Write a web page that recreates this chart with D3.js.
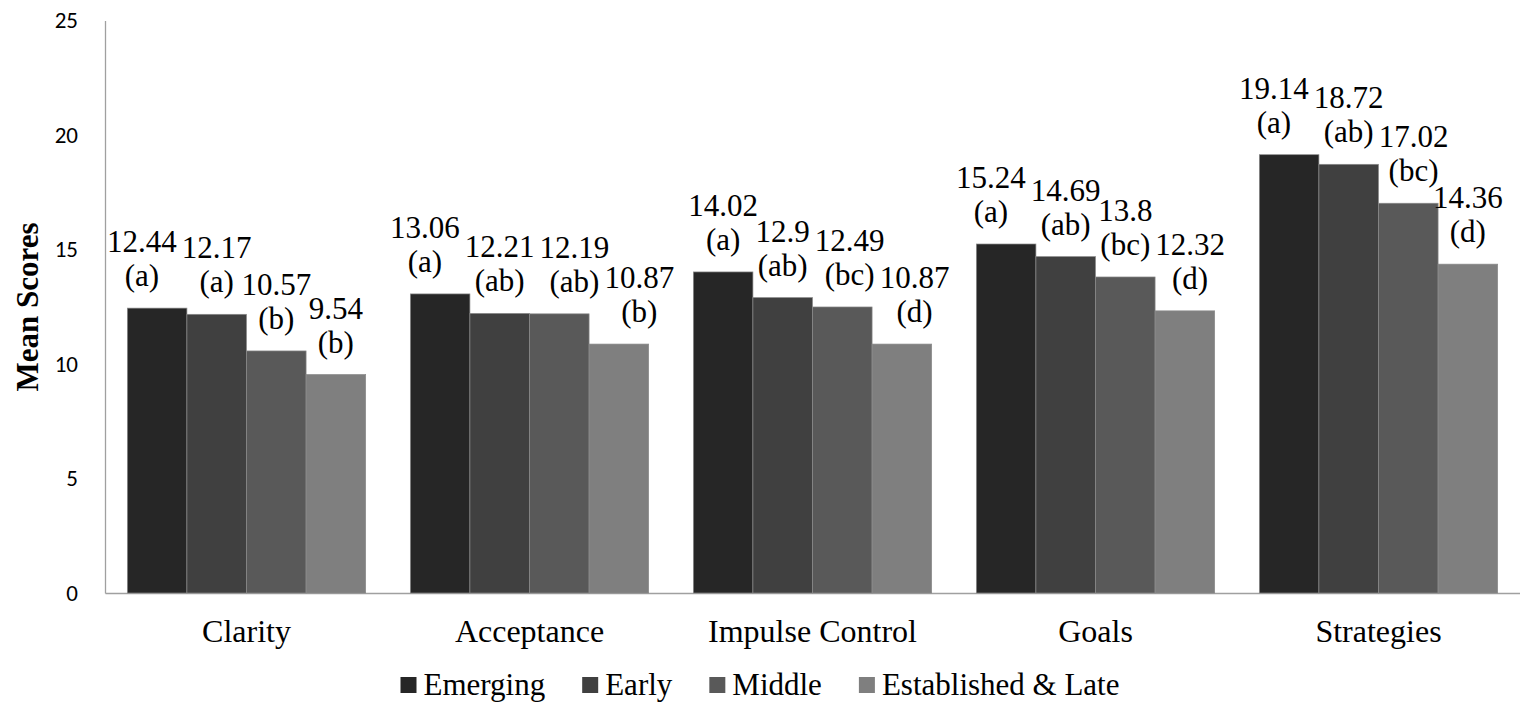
<!DOCTYPE html>
<html>
<head>
<meta charset="utf-8">
<script src="https://cdn.jsdelivr.net/npm/d3@7/dist/d3.min.js"></script>
<style>
  html, body { margin: 0; padding: 0; background: #fff; }
  svg { display: block; }
  .serif { font-family: "Liberation Serif", "Times New Roman", "DejaVu Serif", serif; }
  .sans { font-family: "Carlito", "Lato", "Open Sans", sans-serif; }
</style>
</head>
<body>
<svg id="chart" width="1520" height="714"></svg>
<script>
// Mean scores by career stage for each emotion-regulation subscale
const categories = ["Clarity", "Acceptance", "Impulse Control", "Goals", "Strategies"];
const seriesNames = ["Emerging", "Early", "Middle", "Established & Late"];

const emerging        = [12.44, 13.06, 14.02, 15.24, 19.14];
const early           = [12.17, 12.21, 12.9, 14.69, 18.72];
const middle          = [10.57, 12.19, 12.49, 13.8, 17.02];
const establishedLate = [9.54, 10.87, 10.87, 12.32, 14.36];

// Post-hoc group letters shown under each mean
const emergingGroups        = ["a", "a", "a", "a", "a"];
const earlyGroups           = ["a", "ab", "ab", "ab", "ab"];
const middleGroups          = ["b", "ab", "bc", "bc", "bc"];
const establishedLateGroups = ["b", "b", "d", "d", "d"];

const yTicks = [0, 5, 10, 15, 20, 25];

const seriesValues = [emerging, early, middle, establishedLate];
const seriesGroups = [emergingGroups, earlyGroups, middleGroups, establishedLateGroups];
const colors = ["#262626", "#404040", "#595959", "#7f7f7f"];

const svg = d3.select("#chart");
const width = 1520;

const plotLeft = 105, plotRight = 1520, plotTop = 20.5, plotBottom = 593;

const x0 = d3.scaleBand().domain(categories).range([plotLeft, plotRight]).padding(0);
const x1 = d3.scaleBand().domain(seriesNames).range([0, x0.bandwidth()])
  .paddingInner(0).paddingOuter(0.375);
const y = d3.scaleLinear().domain([0, 25]).range([plotBottom, plotTop]);

const rows = [];
categories.forEach((c, ci) => {
  seriesNames.forEach((s, si) => {
    rows.push({ cat: c, ci, series: s, si,
      value: seriesValues[si][ci], group: seriesGroups[si][ci] });
  });
});

// Axes
const yAxis = d3.axisLeft(y).tickValues(yTicks).tickSize(0).tickPadding(27);
const gy = svg.append("g").attr("transform", `translate(${plotLeft},0)`).call(yAxis);
gy.attr("font-family", null).attr("font-size", null);
gy.select(".domain").attr("stroke", "#a0a0a0").attr("stroke-width", 1.3);
gy.selectAll("text").attr("class", "sans")
  .attr("font-size", 23).attr("fill", "#000");

const xAxis = d3.axisBottom(x0).tickSize(0).tickPadding(0);
const gx = svg.append("g").attr("transform", `translate(0,${plotBottom})`).call(xAxis);
gx.attr("font-family", null).attr("font-size", null);
gx.select(".domain").attr("stroke", "#a0a0a0").attr("stroke-width", 1.3);
gx.selectAll("text").attr("class", "serif")
  .attr("font-size", 32).attr("fill", "#000")
  .attr("dy", null).attr("y", 49);

// Y axis title
svg.append("text").attr("class", "serif")
  .attr("transform", `translate(38,307) rotate(-90)`)
  .attr("text-anchor", "middle")
  .attr("font-weight", "bold").attr("font-size", 31)
  .text("Mean Scores");

// Bars
svg.append("g").selectAll("rect").data(rows).join("rect")
  .attr("x", d => x0(d.cat) + x1(d.series))
  .attr("y", d => y(d.value))
  .attr("width", x1.bandwidth())
  .attr("height", d => y(0) - y(d.value))
  .attr("fill", d => colors[d.si])
  .attr("stroke", "#8a8a8a").attr("stroke-width", 0.7);

// Data labels: value above its group letter
const fs = 31, lineGap = 34, letterLift = 22, pad = 5;
const labelLayer = svg.append("g");
const labels = rows.map(d => {
  const cx = x0(d.cat) + x1(d.series) + x1.bandwidth() / 2;
  const base = y(d.value) - letterLift;
  const g = labelLayer.append("g").attr("transform", `translate(${cx},${base})`);
  const tv = g.append("text").attr("class", "serif").attr("text-anchor", "middle")
    .attr("font-size", fs).attr("y", -lineGap)
    .text(String(d.value));
  const tl = g.append("text").attr("class", "serif").attr("text-anchor", "middle")
    .attr("font-size", fs).attr("y", 0)
    .text(`(${d.group})`);
  return { d, g, cx, base, shift: 0,
    wv: tv.node().getComputedTextLength(), wl: tl.node().getComputedTextLength() };
});

function boxes(L) {
  const c = L.cx + L.shift;
  return [
    { l: c - L.wv / 2, r: c + L.wv / 2, t: L.base - lineGap - 0.7 * fs, b: L.base - lineGap },
    { l: c - L.wl / 2, r: c + L.wl / 2, t: L.base - 0.72 * fs, b: L.base + 0.2 * fs }
  ];
}

// Nudge neighbouring labels sideways so their texts do not collide
categories.forEach((c, ci) => {
  const group = labels.filter(L => L.d.ci === ci);
  for (let i = 1; i < group.length; i++) {
    const A = group[i - 1], B = group[i];
    let need = 0;
    boxes(A).forEach(a => boxes(B).forEach(b => {
      const vOverlap = Math.min(a.b, b.b) - Math.max(a.t, b.t);
      if (vOverlap > 2) {
        const h = a.r + pad - b.l;
        if (h > need) need = h;
      }
    }));
    if (need > 0) {
      if (i === 1) A.shift -= need; else B.shift += need;
    }
  }
});
labels.forEach(L => L.g.attr("transform", `translate(${L.cx + L.shift},${L.base})`));

// Legend, centred under the chart
const legend = svg.append("g");
const lfs = 31, sq = 16, sqGap = 7, itemGap = 37;
let lx = 0;
seriesNames.forEach((s, si) => {
  const item = legend.append("g").attr("transform", `translate(${lx},0)`);
  item.append("rect").attr("x", 0).attr("y", -sq - 2).attr("width", sq).attr("height", sq)
    .attr("fill", colors[si]);
  const t = item.append("text").attr("class", "serif").attr("x", sq + sqGap).attr("y", 0)
    .attr("font-size", lfs).text(s);
  lx += sq + sqGap + t.node().getComputedTextLength() + itemGap;
});
const legendWidth = lx - itemGap;
legend.attr("transform", `translate(${(width - legendWidth) / 2},695)`);
</script>
</body>
</html>
